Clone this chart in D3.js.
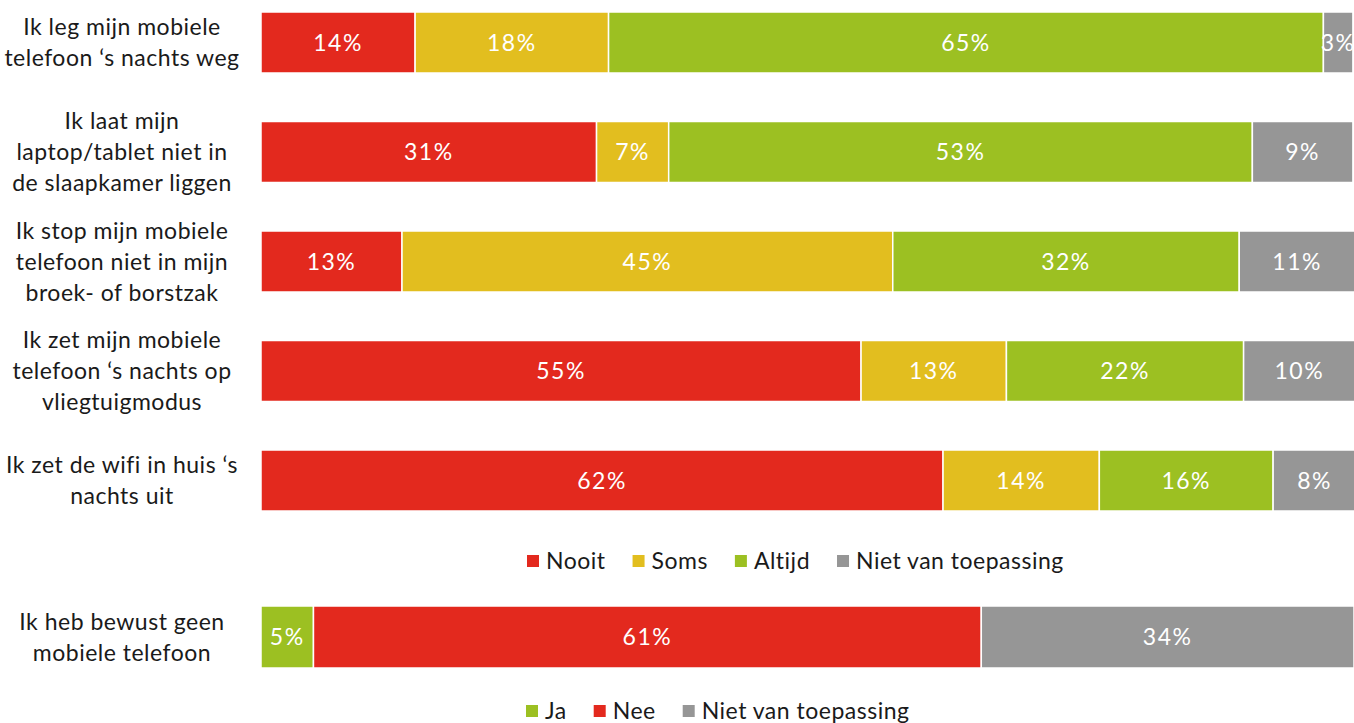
<!DOCTYPE html>
<html>
<head>
<meta charset="utf-8">
<script src="https://cdn.jsdelivr.net/npm/d3@7"></script>
<style>
  body { margin: 0; background: #fff; }
  svg text { font-family: Lato, "Open Sans", sans-serif; }
</style>
</head>
<body>
<svg id="chart" width="1354" height="723"></svg>
<script>
// data
var questions = [
    ["Ik leg mijn mobiele", "telefoon \u2018s nachts weg"],
    ["Ik laat mijn", "laptop/tablet niet in", "de slaapkamer liggen"],
    ["Ik stop mijn mobiele", "telefoon niet in mijn", "broek- of borstzak"],
    ["Ik zet mijn mobiele", "telefoon \u2018s nachts op", "vliegtuigmodus"],
    ["Ik zet de wifi in huis \u2018s", "nachts uit"]
];
var answers = ["Nooit", "Soms", "Altijd", "Niet van toepassing"];
var nooit  = [14.1, 30.7, 12.9, 54.9, 62.4];
var soms   = [17.7, 6.6, 44.9, 13.3, 14.3];
var altijd = [65.4, 53.4, 31.7, 21.7, 15.9];
var nvt    = [2.7, 9.2, 10.6, 10.2, 7.6];

var question2 = ["Ik heb bewust geen", "mobiele telefoon"];
var answers2 = ["Ja", "Nee", "Niet van toepassing"];
var values2 = [4.8, 61.1, 34.1];

var colors = {"Nooit": "#e3291e", "Soms": "#e2be1f", "Altijd": "#9cc022",
              "Niet van toepassing": "#969696", "Ja": "#9cc022", "Nee": "#e3291e"};

var svg = d3.select("#chart");
var x = d3.scaleLinear().domain([0, 100]).range([261, 1354]);
var y = d3.scaleBand().domain(d3.range(questions.length)).range([12, 511]).paddingInner(0.443).paddingOuter(0);
var y2 = d3.scaleBand().domain([0]).range([606, 668]);
var fmt = d3.format(".0f");
var lineH = 31;

function stackRow(vals, keys) {
    var out = [], acc = 0;
    vals.forEach(function (v, i) {
        out.push({key: keys[i], x0: acc, x1: acc + v, v: v});
        acc += v;
    });
    return out;
}

function drawRow(g, segs, top, h) {
    var s = g.selectAll("g.seg").data(segs).join("g").attr("class", "seg");
    s.append("rect")
        .attr("x", d => x(d.x0))
        .attr("y", top)
        .attr("width", d => x(d.x1) - x(d.x0))
        .attr("height", h)
        .attr("fill", d => colors[d.key])
        .attr("stroke", "#fff")
        .attr("stroke-width", 1.5);
    s.append("text")
        .attr("x", d => (x(d.x0) + x(d.x1)) / 2)
        .attr("y", top + h / 2)
        .attr("dy", "0.36em")
        .attr("text-anchor", "middle")
        .attr("fill", "#fff")
        .attr("font-size", 23)
        .attr("letter-spacing", 1.5)
        .text(d => fmt(d.v) + "%");
}

function drawLabel(lines, cy) {
    var t = svg.append("text")
        .attr("text-anchor", "middle")
        .attr("font-size", 23)
        .attr("letter-spacing", 0.5)
        .attr("fill", "#1a1a1a");
    lines.forEach(function (l, i) {
        t.append("tspan")
            .attr("x", 122)
            .attr("y", cy + (i - (lines.length - 1) / 2) * lineH)
            .attr("dy", "0.36em")
            .text(l);
    });
}

questions.forEach(function (q, i) {
    var vals = [nooit[i], soms[i], altijd[i], nvt[i]];
    var g = svg.append("g");
    drawRow(g, stackRow(vals, answers), y(i), y.bandwidth());
    drawLabel(q, y(i) + y.bandwidth() / 2);
});

var g2 = svg.append("g");
drawRow(g2, stackRow(values2, answers2), y2(0), y2.bandwidth());
drawLabel(question2, y2(0) + y2.bandwidth() / 2);

function drawLegend(keys, startX, cy) {
    var cx = startX;
    keys.forEach(function (k) {
        svg.append("rect")
            .attr("x", cx).attr("y", cy - 6)
            .attr("width", 12).attr("height", 12)
            .attr("fill", colors[k]);
        var t = svg.append("text")
            .attr("x", cx + 19).attr("y", cy)
            .attr("dy", "0.36em")
            .attr("font-size", 23)
            .attr("letter-spacing", 0.5)
            .attr("fill", "#1a1a1a")
            .text(k);
        cx += 19 + t.node().getComputedTextLength() + 27;
    });
}

drawLegend(answers, 527, 561);
drawLegend(answers2, 526, 711);
</script>
</body>
</html>
